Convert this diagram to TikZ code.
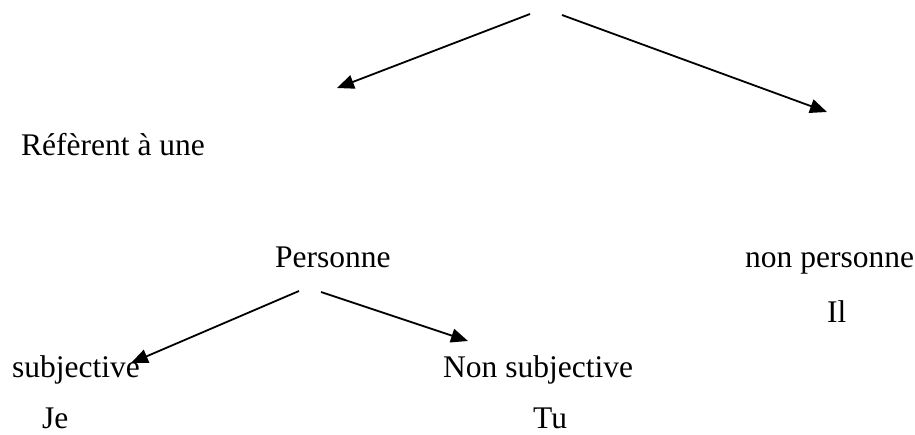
\documentclass[tikz,border=0pt]{standalone}
\usepackage{fontspec}
\setmainfont{Liberation Serif}
\usetikzlibrary{arrows.meta}
\tikzset{
  lbl/.style={anchor=base west, inner sep=0pt, font=\fontsize{31.5}{38}\selectfont},
  arr/.style={line width=1.8pt, -{Triangle[length=17pt,width=14pt]}}
}
\begin{document}
\begin{tikzpicture}[x=1pt,y=-1pt]
\useasboundingbox (0,0) rectangle (915,434);
\node[lbl] (ref) at (21,155) {Réfèrent à une};
\node[lbl] (pers) at (275,267) {Personne};
\node[lbl] (npers) at (745,267) {non personne};
\node[lbl] (il) at (827,322) {Il};
\node[lbl] (subj) at (12,377) {subjective};
\node[lbl] (nsubj) at (443,377) {Non subjective};
\node[lbl] (je) at (42,428) {Je};
\node[lbl] (tu) at (533,428) {Tu};
\coordinate (a1s) at (530,14);
\coordinate (a1e) at (337,88);
\coordinate (a2s) at (562,15);
\coordinate (a2e) at (827,112);
\coordinate (a3s) at (299,291);
\coordinate (a3e) at (131,363);
\coordinate (a4s) at (321,292);
\coordinate (a4e) at (468,341);
\draw[arr] (a1s) -- (a1e);
\draw[arr] (a2s) -- (a2e);
\draw[arr] (a3s) -- (a3e);
\draw[arr] (a4s) -- (a4e);
\end{tikzpicture}
\end{document}
